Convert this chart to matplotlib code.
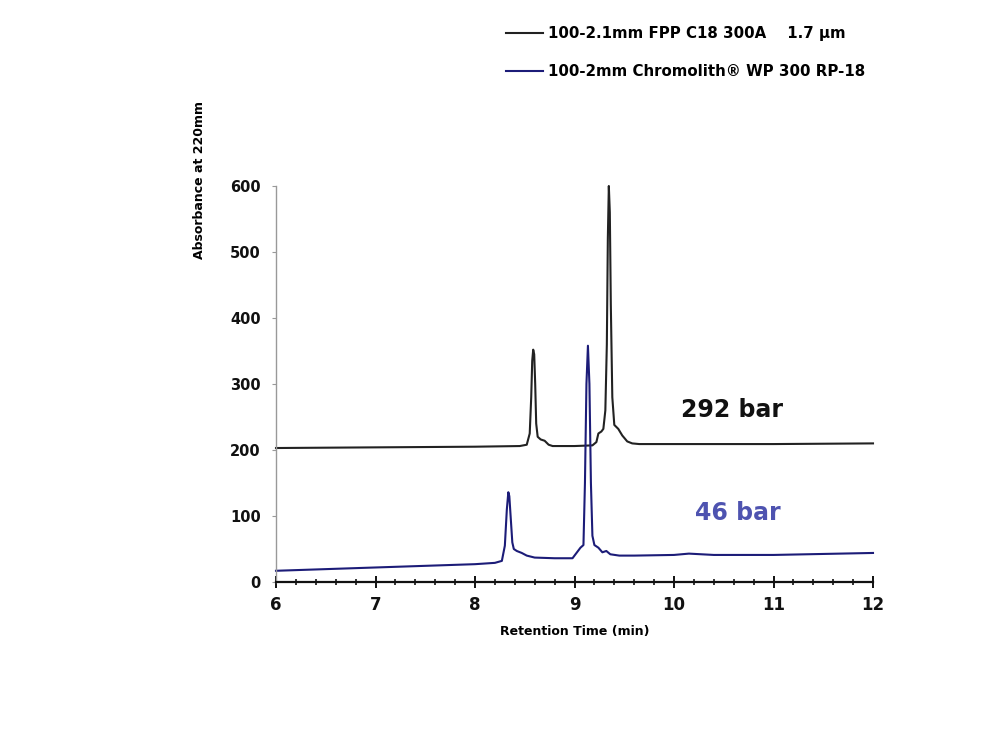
import matplotlib.pyplot as plt
from matplotlib.ticker import MultipleLocator

# 292 bar trace (100-2.1mm FPP C18 300A, 1.7 um)
t_fpp = [6.0, 7.0, 8.0, 8.45, 8.52, 8.55, 8.565, 8.575, 8.585, 8.595, 8.605, 8.615,
         8.63, 8.66, 8.70, 8.74, 8.78, 9.0, 9.18, 9.22, 9.24, 9.27, 9.29, 9.31,
         9.325, 9.335, 9.345, 9.355, 9.365, 9.38, 9.40, 9.44, 9.48, 9.53, 9.58,
         9.65, 10.0, 11.0, 12.0]
a_fpp = [203, 204, 205, 206, 208, 225, 280, 335, 352, 345, 300, 240,
         220, 216, 214, 208, 206, 206, 207, 212, 225, 228, 232, 260,
         360, 520, 600, 560, 420, 280, 238, 232, 222, 213, 210,
         209, 209, 209, 210]

# 46 bar trace (100-2mm Chromolith WP 300 RP-18)
t_wp = [6.0, 7.0, 8.0, 8.2, 8.27, 8.30, 8.32, 8.335, 8.345, 8.36, 8.375, 8.39,
        8.42, 8.47, 8.52, 8.60, 8.8, 8.98, 9.02, 9.06, 9.09, 9.105, 9.12,
        9.135, 9.15, 9.165, 9.18, 9.20, 9.24, 9.28, 9.32, 9.36, 9.45, 9.6,
        10.0, 10.15, 10.4, 11.0, 12.0]
a_wp = [17, 22, 27, 29, 32, 55, 110, 136, 130, 95, 60, 50,
        47, 44, 40, 37, 36, 36, 44, 52, 56, 150, 300,
        358, 300, 150, 70, 56, 52, 45, 47, 42, 40, 40,
        41, 43, 41, 41, 44]

plt.rcParams['font.family'] = 'DejaVu Sans'
plt.rcParams['font.weight'] = 'bold'

fig = plt.figure(figsize=(10, 7.5), dpi=100)
ax = fig.add_axes([0.276, 0.224, 0.597, 0.528])

l1, = ax.plot(t_fpp, a_fpp, color='#222222', lw=1.5, clip_on=False,
              label='100-2.1mm FPP C18 300A    1.7 \u00b5m')
l2, = ax.plot(t_wp, a_wp, color='#1c1c78', lw=1.5, clip_on=False,
              label='100-2mm Chromolith\u00ae WP 300 RP-18')

ax.set_xlim(6, 12)
ax.set_ylim(0, 600)
ax.xaxis.set_major_locator(MultipleLocator(1))
ax.xaxis.set_minor_locator(MultipleLocator(0.2))
ax.yaxis.set_major_locator(MultipleLocator(100))

for s in ['top', 'right']:
    ax.spines[s].set_visible(False)
ax.spines['left'].set_color('#999999')
ax.spines['left'].set_linewidth(1.0)
ax.spines['bottom'].set_color('#111111')
ax.spines['bottom'].set_linewidth(1.6)

ax.tick_params(axis='x', which='major', direction='inout', length=8, width=1.4,
               labelsize=12, pad=6, colors='#111111')
ax.tick_params(axis='x', which='minor', direction='inout', length=5, width=1.2,
               colors='#111111')
ax.tick_params(axis='y', which='major', direction='out', length=3, width=0.8,
               color='#999999', labelsize=10.5, labelcolor='#111111', pad=8)

for lab in ax.get_xticklabels() + ax.get_yticklabels():
    lab.set_fontweight('bold')

ax.set_xlabel('Retention Time (min)', fontsize=9, fontweight='bold', labelpad=8)
ax.set_ylabel('Absorbance at 220mm', fontsize=9, fontweight='bold')
ax.yaxis.set_label_coords(-0.117, 1.015)

ax.text(10.58, 260, '292 bar', fontsize=17, fontweight='bold', color='#111111',
        ha='center', va='center')
ax.text(10.64, 104, '46 bar', fontsize=17, fontweight='bold', color='#4e53b0',
        ha='center', va='center')

fig.legend(handles=[l1, l2], loc='upper left', bbox_to_anchor=(0.492, 0.983),
           frameon=False, handlelength=2.5, handletextpad=0.3,
           labelspacing=1.55, prop={'weight': 'bold', 'size': 10.8})

fig.savefig('out.png', dpi=100)
